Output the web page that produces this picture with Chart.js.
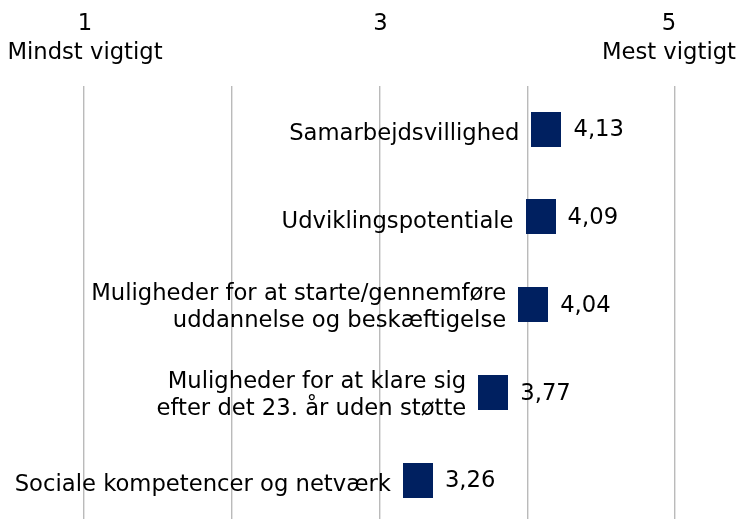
<!DOCTYPE html>
<html>
<head>
<meta charset="utf-8">
<script src="https://cdn.jsdelivr.net/npm/chart.js@4/dist/chart.umd.min.js"></script>
<style>
  html, body { margin: 0; padding: 0; background: #fff; overflow: hidden; }
  #wrap { width: 739px; height: 519px; }
</style>
</head>
<body>
<div id="wrap"><canvas id="myChart"></canvas></div>
<script>
// categories, top to bottom
var categories = [
  ['Samarbejdsvillighed'],
  ['Udviklingspotentiale'],
  ['Muligheder for at starte/gennemføre', 'uddannelse og beskæftigelse'],
  ['Muligheder for at klare sig', 'efter det 23. år uden støtte'],
  ['Sociale kompetencer og netværk']
]
var values = [4.13, 4.09, 4.04, 3.77, 3.26]
// labels across the top
var tickValues = [1, 3, 5]
var tickTexts = [['1', 'Mindst vigtigt'], ['3'], ['5', 'Mest vigtigt']]

var FONT = '22.7px "DejaVu Sans", Verdana, sans-serif'
var NAVY = '#002060'

// the marker (a bit taller than wide, like the original)
var marker = document.createElement('canvas')
marker.width = 30
marker.height = 35
var mctx = marker.getContext('2d')
mctx.fillStyle = NAVY
mctx.fillRect(0, 0, 30, 35)

var points = values.map(function(v, i) { return { x: v, y: i } })

var labelPlugin = {
  id: 'labels',
  afterDatasetsDraw: function(chart) {
    var ctx = chart.ctx
    var meta = chart.getDatasetMeta(0)
    ctx.save()
    ctx.font = FONT
    ctx.fillStyle = '#000'
    ctx.textBaseline = 'alphabetic'
    meta.data.forEach(function(pt, i) {
      var lines = categories[i]
      var y0 = pt.y + 11 - (lines.length - 1) * 16
      ctx.textAlign = 'right'
      lines.forEach(function(line, j) {
        ctx.fillText(line, pt.x - 27, y0 + j * 27)
      })
      ctx.textAlign = 'left'
      ctx.fillText(values[i].toFixed(2).replace('.', ','), pt.x + 27, pt.y + 7)
    })
    // top axis labels, kept inside the canvas
    var xs = chart.scales.x
    ctx.textAlign = 'center'
    tickValues.forEach(function(t, i) {
      var px = xs.getPixelForValue(t) + 1
      var half = Math.max.apply(null, tickTexts[i].map(function(s) { return ctx.measureText(s).width / 2 }))
      var cx = Math.min(px, chart.width - half - 3)
      tickTexts[i].forEach(function(line, j) {
        ctx.fillText(line, cx, 30 + j * 29)
      })
    })
    ctx.restore()
  }
}

var ctx = document.getElementById('myChart')
var myChart = new Chart(ctx, {
  type: 'scatter',
  data: {
    datasets: [{
      data: points,
      pointStyle: marker,
      pointRadius: 17,
      pointHoverRadius: 17,
      backgroundColor: NAVY,
      borderColor: NAVY
    }]
  },
  options: {
    responsive: true,
    maintainAspectRatio: false,
    animation: false,
    events: [],
    layout: { autoPadding: false, padding: { left: 84, right: 64, top: 86, bottom: 0 } },
    plugins: { legend: { display: false }, tooltip: { enabled: false } },
    scales: {
      x: {
        type: 'linear',
        position: 'top',
        min: 1,
        max: 5,
        ticks: { display: false, stepSize: 1 },
        grid: { color: '#bababa', lineWidth: 1.4, drawTicks: false },
        border: { display: false }
      },
      y: {
        type: 'linear',
        display: false,
        reverse: true,
        min: -0.49,
        max: 4.44
      }
    }
  },
  plugins: [labelPlugin]
})
</script>
</body>
</html>
